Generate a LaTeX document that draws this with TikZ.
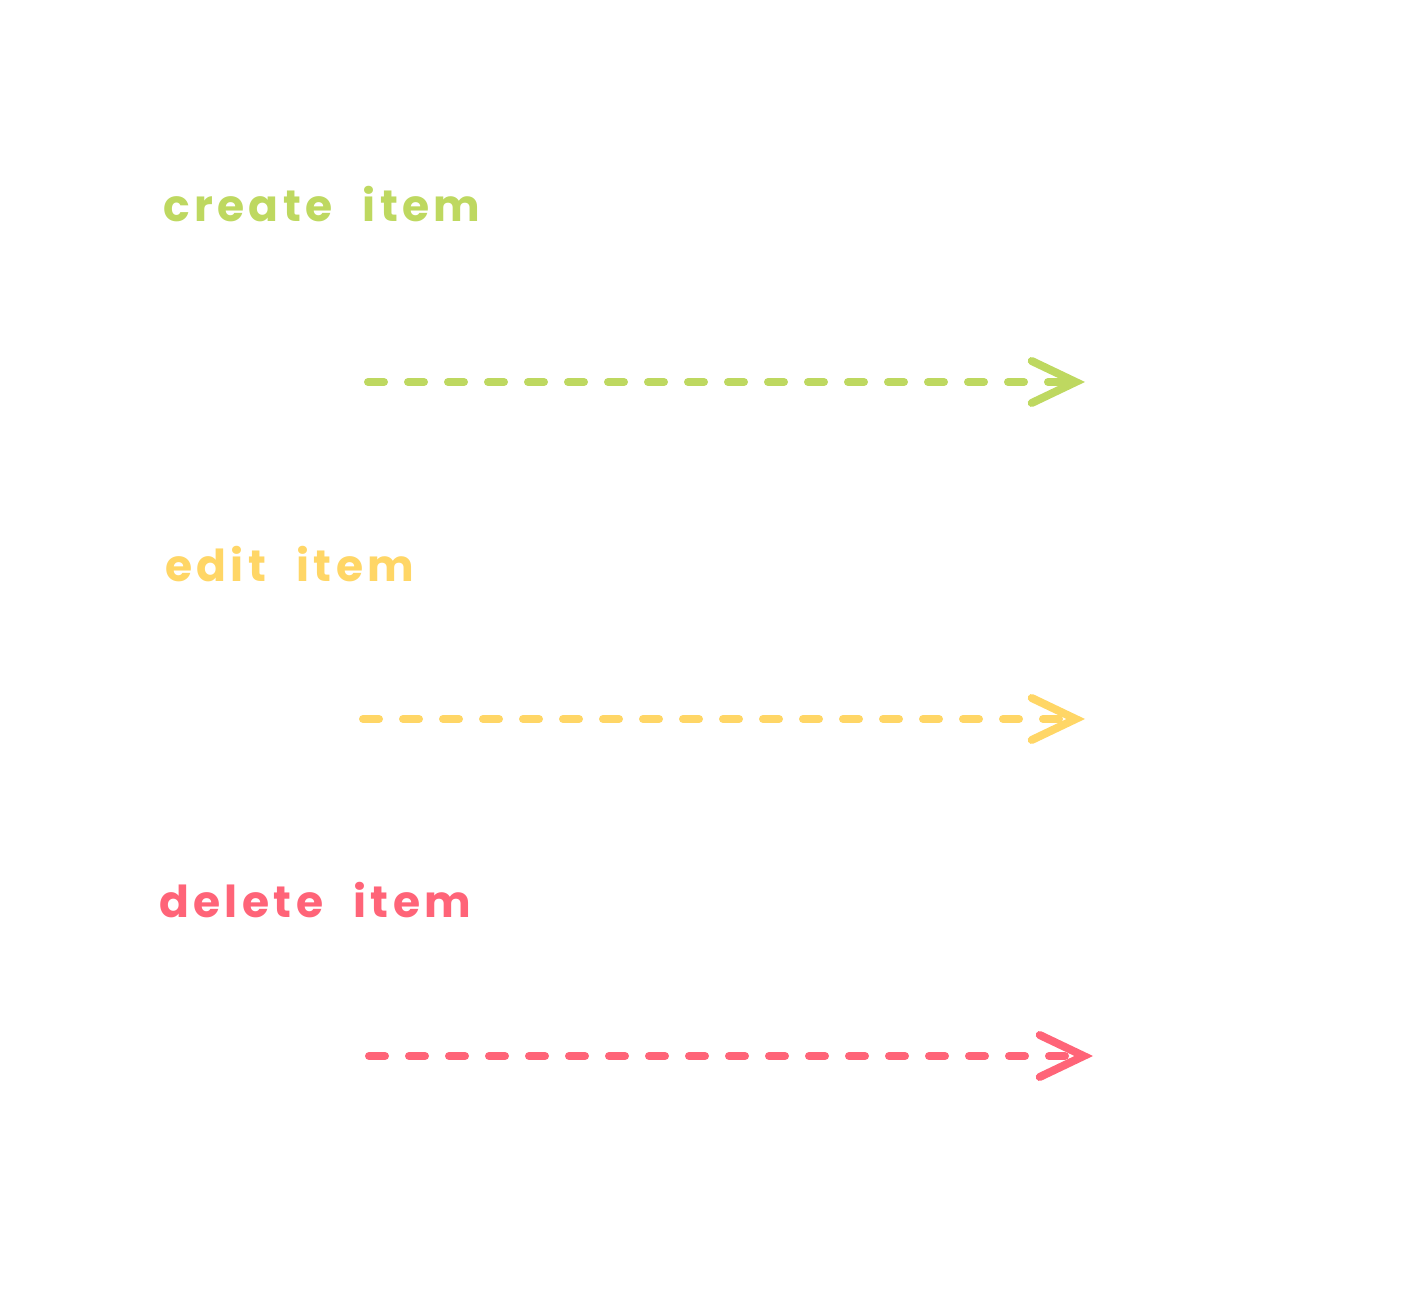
\documentclass[tikz,border=0pt]{standalone}
\usepackage{fontspec}
\setmainfont[LetterSpace=10, WordSpace=2.2]{Poppins}
\usetikzlibrary{arrows.meta}
\definecolor{creategreen}{RGB}{190,216,96}
\definecolor{edityellow}{RGB}{255,214,102}
\definecolor{deletered}{RGB}{255,100,120}
\tikzset{
  label/.style={anchor=base west, inner sep=0pt,
    font=\fontsize{44}{52}\selectfont\bfseries},
  flow/.style={line width=8pt, line cap=round, line join=round,
    dash pattern=on 16pt off 24pt,
    -{Straight Barb[length=44pt, width=42pt, line cap=round]}}
}
\begin{document}
\begin{tikzpicture}[x=1pt, y=1pt]
      \useasboundingbox (0, 0) rectangle (1412, 1309);
      % labels
      \node [label, text=creategreen] (create) at (163, 1087) {create item};
      \node [label, text=edityellow] (edit) at (165, 727) {edit item};
      \node [label, text=deletered] (delete) at (159, 391) {delete item};
      % arrows
      \coordinate (createA) at (368, 927);
      \coordinate (createB) at (1085, 927);
      \coordinate (editA) at (363, 590);
      \coordinate (editB) at (1085, 590);
      \coordinate (deleteA) at (369, 253);
      \coordinate (deleteB) at (1093, 253);
      \draw [flow, creategreen] (createA) -- (createB);
      \draw [flow, edityellow] (editA) -- (editB);
      \draw [flow, deletered] (deleteA) -- (deleteB);
    \end{tikzpicture}
\end{document}
